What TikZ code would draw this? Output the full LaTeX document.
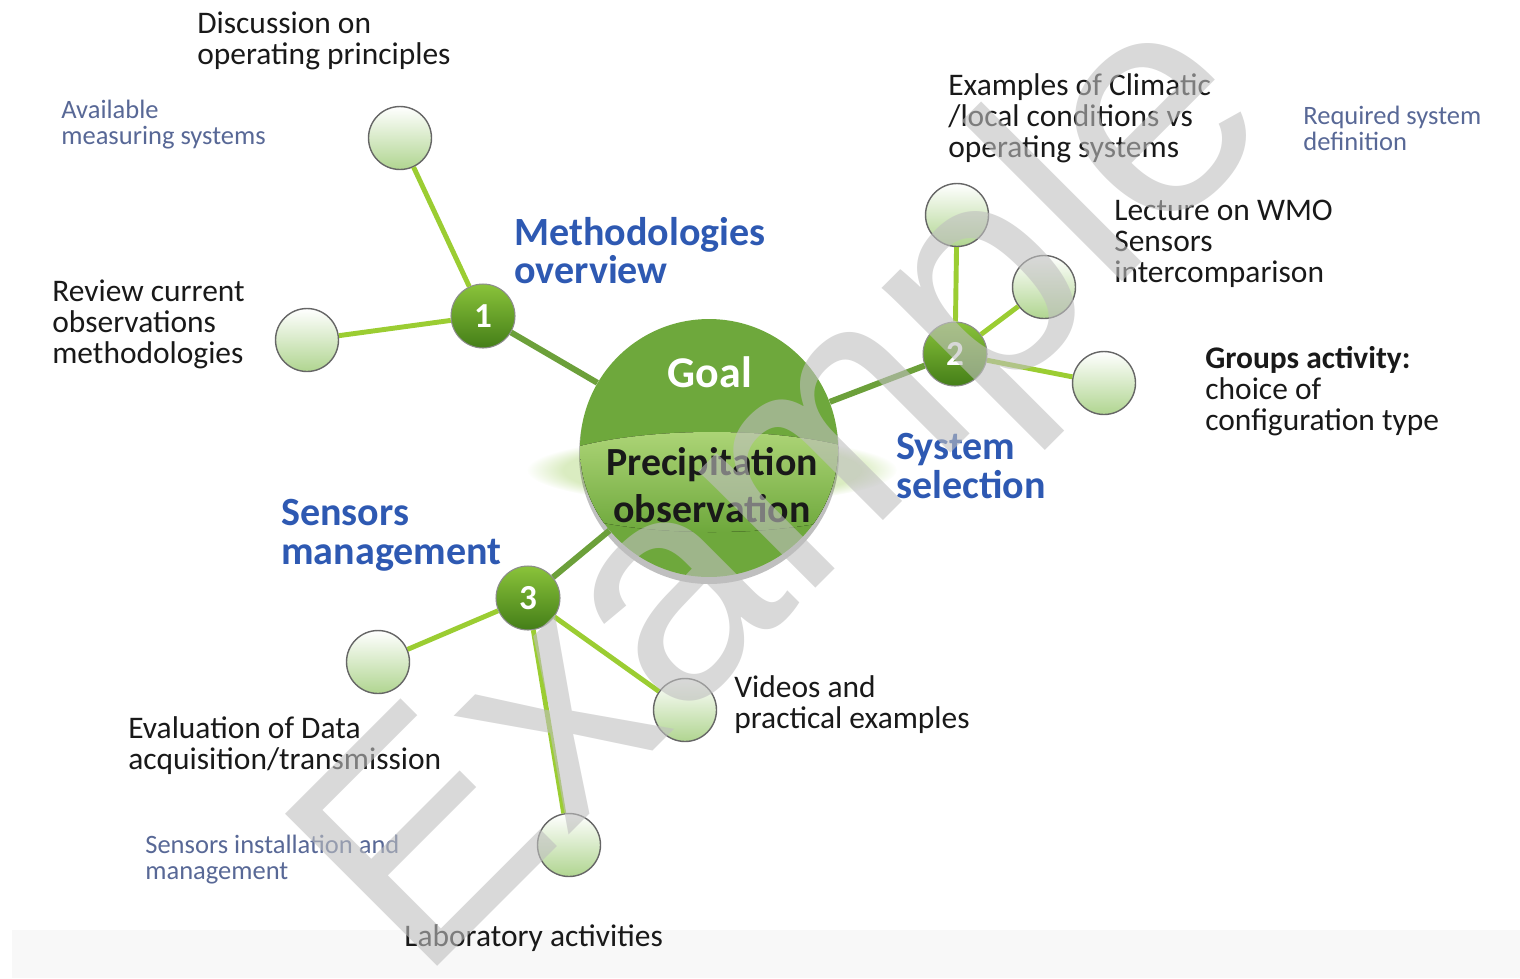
\documentclass[tikz,border=0pt]{standalone}
\usepackage{fontspec}
\usetikzlibrary{fadings}
\setmainfont{Carlito}
\newfontfamily\wmfont{Liberation Sans}
\definecolor{goalgreen}{RGB}{110,168,60}
\definecolor{glossgreen}{RGB}{172,212,118}
\definecolor{spokegreen}{RGB}{108,160,58}
\definecolor{twiggreen}{RGB}{155,205,50}
\definecolor{hublight}{RGB}{138,195,58}
\definecolor{hubdark}{RGB}{68,126,24}
\definecolor{leafgreen}{RGB}{176,213,144}
\definecolor{headblue}{RGB}{46,89,178}
\definecolor{noteblue}{RGB}{88,104,150}
\definecolor{bandgray}{RGB}{248,248,248}
\tikzset{
	hub/.style={circle, minimum size=1.28cm, inner sep=0pt, top color=hublight, bottom color=hubdark, draw=black!45, line width=0.6pt, text=white, font=\bfseries\fontsize{20}{20}\selectfont},
	leaf/.style={circle, minimum size=1.26cm, inner sep=0pt, top color=white, bottom color=leafgreen, draw=black!60, line width=0.8pt},
	topic/.style={anchor=north west, inner sep=0pt, align=left, text=black!90, font=\fontsize{17.9}{17.6}\selectfont},
	heading/.style={topic, text=headblue, font=\bfseries\fontsize{22.8}{21.9}\selectfont},
	note/.style={topic, text=noteblue, font=\fontsize{15.1}{14.5}\selectfont},
	spoke/.style={spokegreen, line width=3.4pt},
	twig/.style={twiggreen, line width=2.8pt}
}
\begin{document}
\begin{tikzpicture}[x=0.02cm, y=-0.02cm]
	\useasboundingbox (0,0) rectangle (1520,978);
	\fill[bandgray] (12,930) rectangle (1520,978);
	\fill[glossgreen!45, path fading=circle with fuzzy edge 20 percent] (712,470) ellipse (185 and 34);
	\fill[black, opacity=0.25] (709,454) circle (130);
	\node[circle, fill=goalgreen, minimum size=5.16cm, inner sep=0pt] (goal) at (709,448) {};
	\begin{scope}
		\clip (709,448) circle (129);
		\fill[top color=glossgreen, bottom color=goalgreen] (712,482) ellipse (190 and 50);
	\end{scope}
	\node[anchor=base, inner sep=0pt, text=white, font=\bfseries\fontsize{25}{25}\selectfont] (goaltxt) at (710,387) {Goal};
	\node[anchor=north, inner sep=0pt, align=center, text=black!90, font=\bfseries\fontsize{22.7}{26.7}\selectfont] (precip) at (712,447) {Precipitation\\observation};

	\node[hub] (h1) at (483,316) {1};
	\node[hub] (h2) at (955,354) {2};
	\node[hub] (h3) at (528,598) {3};

	\node[leaf] (l1a) at (400,138) {};
	\node[leaf] (l1b) at (307,340) {};
	\node[leaf] (l2a) at (957,215) {};
	\node[leaf] (l2b) at (1044,287) {};
	\node[leaf] (l2c) at (1104,383) {};
	\node[leaf] (l3a) at (378,662) {};
	\node[leaf] (l3b) at (685,710) {};
	\node[leaf] (l3c) at (569,845) {};

	\draw[spoke] (goal) -- (h1);
	\draw[spoke] (goal) -- (h2);
	\draw[spoke] (goal) -- (h3);
	\draw[twig] (h1) -- (l1a);
	\draw[twig] (h1) -- (l1b);
	\draw[twig] (h2) -- (l2a);
	\draw[twig] (h2) -- (l2b);
	\draw[twig] (h2) -- (l2c);
	\draw[twig] (h3) -- (l3a);
	\draw[twig] (h3) -- (l3b);
	\draw[twig] (h3) -- (l3c);

	\node[topic] (disc) at (197,12) {Discussion on\\operating principles};
	\node[note] (avail) at (61,100) {Available\\measuring systems};
	\node[heading] (meth) at (514,217) {Methodologies\\overview};
	\node[topic] (review) at (52,280) {Review current\\observations\\methodologies};
	\node[topic] (climatic) at (948,73) {Examples of Climatic\\/local conditions vs\\operating systems};
	\node[note] (reqd) at (1303,106) {Required system\\definition};
	\node[topic] (lecture) at (1114,200) {Lecture on WMO\\Sensors\\intercomparison};
	\node[topic] (groups) at (1205,346) {\textbf{Groups activity:}\\choice of\\configuration type};
	\node[heading] (syssel) at (896,433) {System\\selection};
	\node[heading] (sensmgmt) at (281,499) {Sensors\\management};
	\node[topic] (videos) at (734,675) {Videos and\\practical examples};
	\node[topic] (evaldata) at (128,716) {Evaluation of Data\\acquisition/transmission};
	\node[note] (sensinst) at (145,835) {Sensors installation and\\management};
	\node[topic] (lab) at (404,924) {Laboratory activities};

	\node[rotate=45, anchor=base west, inner sep=0pt, text=black!25, opacity=0.6, font=\wmfont\fontsize{178}{178}\selectfont] (wm) at (419,985) {Example};
\end{tikzpicture}
\end{document}
